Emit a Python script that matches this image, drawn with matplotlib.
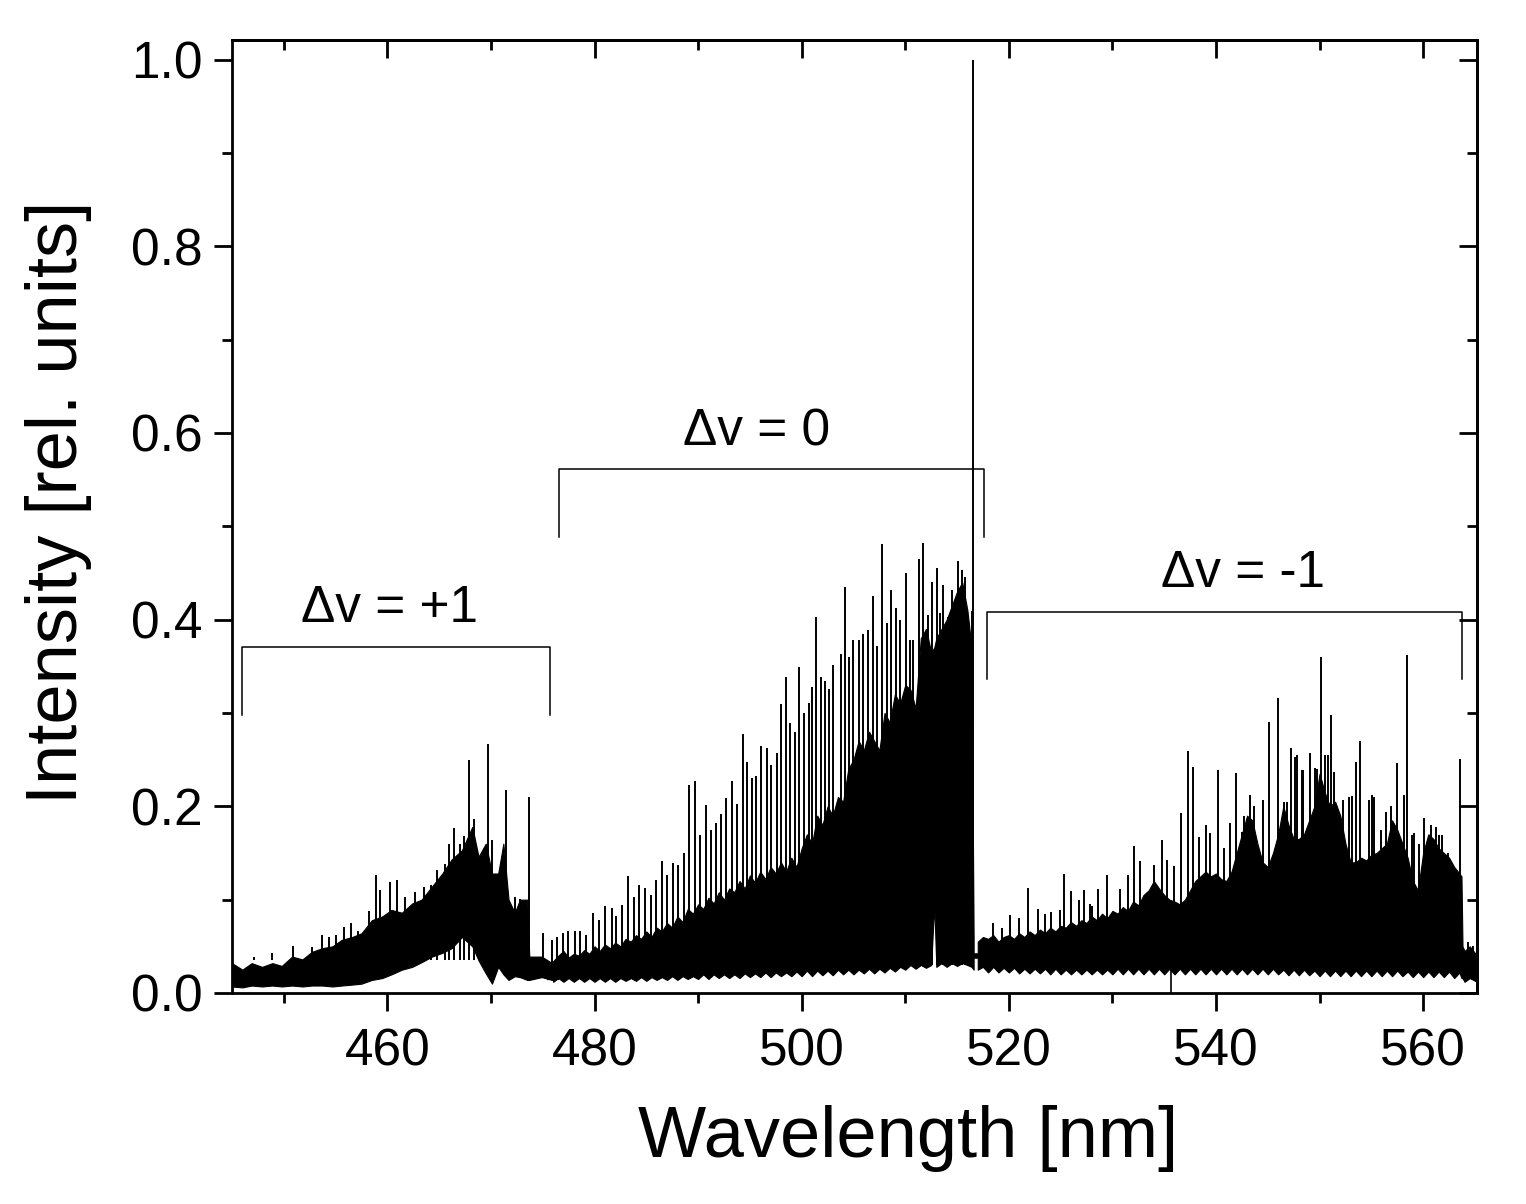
import numpy as np
import matplotlib.pyplot as plt
from matplotlib.ticker import MultipleLocator

plt.rcParams['font.family'] = ['Liberation Sans', 'DejaVu Sans']

# dense part of the spectrum (unresolved lines): lower / upper edge of the black band
# dv = +1 sequence
p1_band_wl = [445, 446, 446.9, 447.9, 448.9, 449.8, 450.8, 451.8, 452.7, 453.7, 454.7, 455.6,
              456.6, 457.5, 458.5, 459.5, 460.4, 461.4, 462.4, 463.3, 464.3, 465.3, 466.2,
              467.2, 468.2, 468.8, 469.5, 470.1, 470.7, 471.2, 471.7, 472.3, 472.8, 473.5,
              473.7, 474.9, 475.9]
p1_band_lo = [0.007, 0.006, 0.008, 0.007, 0.008, 0.007, 0.008, 0.007, 0.008, 0.008, 0.007,
              0.008, 0.009, 0.010, 0.014, 0.016, 0.020, 0.025, 0.028, 0.033, 0.039, 0.043,
              0.048, 0.060, 0.050, 0.035, 0.021, 0.010, 0.028, 0.020, 0.014, 0.018, 0.017,
              0.014, 0.014, 0.017, 0.014]
p1_band_hi = [0.032, 0.025, 0.032, 0.028, 0.032, 0.029, 0.039, 0.036, 0.044, 0.048, 0.050,
              0.057, 0.060, 0.064, 0.078, 0.082, 0.089, 0.086, 0.096, 0.100, 0.114, 0.128,
              0.143, 0.153, 0.178, 0.146, 0.160, 0.128, 0.128, 0.160, 0.100, 0.086, 0.100,
              0.100, 0.039, 0.039, 0.032]

# dv = 0 sequence
z_band_wl = [476, 476.5, 477, 477.5, 478, 478.5, 479, 479.5, 480, 480.5, 481, 481.5, 482,
             482.5, 483, 483.5, 484, 484.5, 485, 485.5, 486, 486.5, 487, 487.5, 488, 488.5,
             489, 489.5, 490, 490.5, 491, 491.5, 492, 492.5, 493, 493.5, 494, 494.5, 495,
             495.5, 496, 496.5, 497, 497.5, 498, 498.5, 499, 499.5, 500, 500.5, 501, 501.5,
             502, 502.5, 503, 503.5, 504, 504.5, 505, 505.5, 506, 506.5, 507, 507.5, 508,
             508.5, 509, 509.5, 510, 510.5, 511, 511.5, 512, 512.5, 512.8, 513, 513.5, 514,
             514.5, 515, 515.5, 516, 516.4, 516.6]
z_band_lo = [0.012, 0.016, 0.012, 0.016, 0.012, 0.016, 0.012, 0.016, 0.012, 0.016, 0.012,
             0.016, 0.012, 0.016, 0.013, 0.016, 0.013, 0.017, 0.013, 0.017, 0.014, 0.017,
             0.014, 0.018, 0.014, 0.018, 0.015, 0.018, 0.015, 0.020, 0.015, 0.020, 0.016,
             0.020, 0.016, 0.020, 0.016, 0.021, 0.017, 0.021, 0.017, 0.022, 0.017, 0.022,
             0.018, 0.022, 0.018, 0.023, 0.018, 0.024, 0.018, 0.024, 0.019, 0.024, 0.019,
             0.025, 0.020, 0.025, 0.020, 0.025, 0.021, 0.026, 0.021, 0.026, 0.022, 0.027,
             0.023, 0.028, 0.025, 0.030, 0.026, 0.030, 0.027, 0.030, 0.095, 0.028, 0.032,
             0.028, 0.032, 0.029, 0.032, 0.030, 0.028, 0.025]
z_band_hi = [0.034, 0.040, 0.045, 0.038, 0.042, 0.040, 0.046, 0.042, 0.050, 0.045, 0.052,
             0.048, 0.054, 0.050, 0.058, 0.055, 0.062, 0.058, 0.066, 0.060, 0.070, 0.066,
             0.075, 0.070, 0.082, 0.076, 0.090, 0.085, 0.095, 0.090, 0.102, 0.096, 0.108,
             0.100, 0.112, 0.108, 0.120, 0.112, 0.126, 0.118, 0.130, 0.122, 0.135, 0.128,
             0.140, 0.130, 0.145, 0.135, 0.155, 0.170, 0.160, 0.190, 0.180, 0.200, 0.190,
             0.210, 0.205, 0.240, 0.250, 0.270, 0.260, 0.280, 0.270, 0.260, 0.300, 0.290,
             0.320, 0.310, 0.330, 0.325, 0.305, 0.380, 0.390, 0.365, 0.370, 0.380, 0.390,
             0.400, 0.415, 0.430, 0.440, 0.410, 0.370, 0.060]

# dv = -1 sequence
m1_band_wl = [517, 517.5, 518, 518.5, 519, 519.5, 520, 520.5, 521, 521.5, 522, 522.5, 523,
              523.5, 524, 524.5, 525, 525.5, 526, 526.5, 527, 527.5, 528, 528.5, 529, 529.5,
              530, 530.5, 531, 531.5, 532, 532.5, 533, 533.5, 534, 534.5, 535, 535.5, 536,
              536.5, 537, 537.5, 538, 538.5, 539, 539.5, 540, 540.5, 541, 541.5, 542, 542.5,
              543, 543.5, 544, 544.5, 545, 545.5, 546, 546.5, 547, 547.5, 548, 548.5, 549,
              549.5, 550, 550.5, 551, 551.5, 552, 552.5, 553, 553.5, 554, 554.5, 555, 555.5,
              556, 556.5, 557, 557.5, 558, 558.5, 559, 559.5, 560, 560.5, 561, 561.5, 562,
              562.5, 563, 563.5, 563.7, 563.8, 564, 564.5, 565.2]
m1_band_lo = [0.025, 0.028, 0.022, 0.028, 0.022, 0.027, 0.022, 0.027, 0.021, 0.026, 0.021,
              0.026, 0.021, 0.026, 0.020, 0.026, 0.020, 0.025, 0.020, 0.025, 0.020, 0.025,
              0.020, 0.025, 0.020, 0.025, 0.020, 0.026, 0.020, 0.026, 0.020, 0.026, 0.020,
              0.026, 0.020, 0.026, 0.020, 0.026, 0.020, 0.026, 0.020, 0.026, 0.020, 0.026,
              0.020, 0.026, 0.020, 0.026, 0.020, 0.026, 0.020, 0.026, 0.020, 0.026, 0.020,
              0.026, 0.020, 0.026, 0.020, 0.025, 0.019, 0.025, 0.019, 0.025, 0.019, 0.024,
              0.018, 0.024, 0.018, 0.024, 0.018, 0.024, 0.018, 0.024, 0.018, 0.024, 0.018,
              0.024, 0.018, 0.024, 0.018, 0.024, 0.018, 0.023, 0.017, 0.023, 0.017, 0.023,
              0.017, 0.023, 0.017, 0.023, 0.016, 0.022, 0.016, 0.016, 0.012, 0.016, 0.012]
m1_band_hi = [0.055, 0.060, 0.058, 0.062, 0.055, 0.060, 0.062, 0.058, 0.064, 0.060, 0.066,
              0.062, 0.068, 0.064, 0.070, 0.066, 0.072, 0.070, 0.076, 0.072, 0.078, 0.075,
              0.082, 0.078, 0.085, 0.080, 0.088, 0.085, 0.092, 0.088, 0.098, 0.094, 0.105,
              0.110, 0.120, 0.112, 0.105, 0.100, 0.098, 0.095, 0.100, 0.110, 0.120, 0.125,
              0.130, 0.125, 0.128, 0.122, 0.120, 0.130, 0.150, 0.170, 0.190, 0.185, 0.160,
              0.140, 0.135, 0.150, 0.170, 0.200, 0.180, 0.165, 0.165, 0.170, 0.185, 0.200,
              0.235, 0.215, 0.200, 0.205, 0.190, 0.160, 0.140, 0.140, 0.145, 0.142, 0.148,
              0.150, 0.155, 0.160, 0.185, 0.175, 0.160, 0.145, 0.120, 0.110, 0.150, 0.170,
              0.165, 0.155, 0.150, 0.145, 0.135, 0.128, 0.125, 0.050, 0.045, 0.050, 0.040]

# single lines sticking out of the band
p1_wl = [447.09, 448.86, 450.89, 452.72, 453.69, 454.33, 455.04, 455.78, 456.52, 457.16,
         458.26, 458.90, 459.32, 460.28, 460.93, 461.73, 462.63, 463.50, 464.24, 464.79,
         465.53, 465.98, 466.40, 467.04, 467.43, 467.91, 468.39, 468.97, 469.68, 470.10,
         471.00, 471.45, 472.35, 472.83, 473.64]
p1_h = [0.039, 0.043, 0.050, 0.049, 0.062, 0.060, 0.062, 0.071, 0.075, 0.066,
        0.088, 0.126, 0.110, 0.119, 0.121, 0.103, 0.108, 0.114, 0.116, 0.132,
        0.138, 0.160, 0.177, 0.160, 0.168, 0.250, 0.186, 0.146, 0.267, 0.164,
        0.139, 0.218, 0.103, 0.101, 0.210]

z_wl = [475.05, 475.86, 476.34, 476.92, 477.46, 478.11, 478.59, 479.17, 479.81, 480.42,
        481.00, 481.65, 482.07, 482.62, 483.19, 483.80, 484.29, 484.87, 485.41, 485.93,
        486.51, 487.02, 487.53, 488.08, 488.66, 489.14, 489.72, 490.17, 490.75, 491.20,
        491.72, 492.20, 492.68, 493.26, 493.74, 494.29, 494.74, 495.19, 495.60, 496.03,
        496.61, 497.05, 497.57, 497.99, 498.44, 498.89, 499.34, 499.76, 500.21, 500.66,
        500.98, 501.37, 501.82, 502.27, 502.59, 503.04, 503.75, 504.17, 504.58, 504.97,
        505.49, 505.94, 506.45, 506.90, 507.32, 507.74, 508.19, 508.61, 509.06, 509.48,
        510.06, 510.44, 510.77, 511.34, 511.73, 512.21, 512.60, 513.02, 513.34, 513.66,
        514.14, 514.47, 515.11, 515.44, 515.75, 516.49, 516.53]
z_h = [0.064, 0.057, 0.060, 0.064, 0.066, 0.066, 0.066, 0.062, 0.086, 0.078,
       0.093, 0.091, 0.082, 0.094, 0.125, 0.103, 0.116, 0.112, 0.105, 0.121,
       0.141, 0.126, 0.139, 0.137, 0.150, 0.223, 0.227, 0.169, 0.201, 0.175,
       0.182, 0.192, 0.209, 0.227, 0.203, 0.277, 0.247, 0.230, 0.233, 0.265,
       0.262, 0.244, 0.257, 0.310, 0.339, 0.289, 0.280, 0.349, 0.300, 0.311,
       0.328, 0.403, 0.339, 0.334, 0.326, 0.351, 0.363, 0.435, 0.360, 0.378,
       0.378, 0.385, 0.389, 0.425, 0.372, 0.481, 0.396, 0.432, 0.412, 0.400,
       0.450, 0.378, 0.378, 0.465, 0.482, 0.405, 0.440, 0.455, 0.407, 0.437,
       0.403, 0.432, 0.463, 0.453, 0.446, 0.409, 1.000]

m1_wl = [518.50, 519.30, 520.08, 521.00, 521.86, 522.80, 523.50, 524.03, 524.91, 525.37,
         526.05, 526.80, 527.29, 527.80, 528.03, 528.65, 529.46, 530.72, 531.50, 532.09,
         532.70, 533.97, 534.74, 535.30, 535.92, 536.64, 537.28, 537.80, 538.38, 539.03,
         539.46, 540.17, 540.79, 541.31, 541.96, 542.53, 542.70, 543.26, 543.68, 544.55,
         545.14, 546.03, 546.59, 546.90, 547.25, 547.63, 547.80, 548.26, 548.40, 549.09,
         549.59, 549.80, 550.10, 550.56, 550.80, 551.10, 551.44, 552.28, 552.80, 553.09,
         553.52, 553.93, 554.80, 555.04, 555.30, 555.90, 556.40, 556.92, 557.47, 558.12,
         558.45, 558.95, 559.10, 559.59, 560.08, 560.80, 561.20, 561.55, 561.80, 562.42,
         563.60, 564.30, 564.80]
m1_h = [0.075, 0.070, 0.084, 0.080, 0.113, 0.090, 0.085, 0.087, 0.089, 0.128,
        0.109, 0.100, 0.110, 0.095, 0.093, 0.111, 0.126, 0.111, 0.126, 0.158,
        0.141, 0.137, 0.164, 0.143, 0.136, 0.193, 0.259, 0.242, 0.167, 0.180,
        0.171, 0.239, 0.155, 0.182, 0.236, 0.173, 0.190, 0.212, 0.200, 0.207,
        0.290, 0.316, 0.205, 0.205, 0.262, 0.253, 0.255, 0.239, 0.239, 0.257,
        0.241, 0.240, 0.360, 0.255, 0.255, 0.298, 0.237, 0.207, 0.210, 0.211,
        0.247, 0.270, 0.207, 0.212, 0.210, 0.175, 0.194, 0.200, 0.246, 0.212,
        0.362, 0.169, 0.171, 0.160, 0.187, 0.180, 0.178, 0.169, 0.169, 0.150,
        0.251, 0.055, 0.050]

# one line that dips down to zero
dip_wl = [535.7]
dip_lo = [0.0]

# band labels and bracket extents
band_names = ['\u0394v = +1', '\u0394v = 0', '\u0394v = -1']
br_left = [445.97, 476.6, 517.85]
br_right = [475.7, 517.6, 563.75]
br_top = [0.371, 0.5616, 0.4087]
br_bot = [0.298, 0.489, 0.336]
name_x = [460.25, 495.65, 542.6]
name_y = [0.3976, 0.587, 0.435]

fig = plt.figure(figsize=(15.26, 12.04), dpi=100)
ax = fig.add_axes([232 / 1526, 211 / 1204, 1245 / 1526, 953 / 1204])

for wl, lo, hi in [(p1_band_wl, p1_band_lo, p1_band_hi),
                   (z_band_wl, z_band_lo, z_band_hi),
                   (m1_band_wl, m1_band_lo, m1_band_hi)]:
    ax.fill_between(wl, lo, hi, color='black', lw=0.8)
ax.plot([p1_band_wl[-1], z_band_wl[0]], [0.02, 0.02], color='black', lw=8)
ax.plot([z_band_wl[-1], m1_band_wl[0]], [0.04, 0.04], color='black', lw=4)

# lines start inside the band so only their tops show
ax.vlines(p1_wl, 0.035, p1_h, color='black', lw=1.4)
ax.vlines(z_wl, 0.03, z_h, color='black', lw=1.4)
ax.vlines(m1_wl, 0.03, m1_h, color='black', lw=1.4)
ax.vlines(dip_wl, dip_lo, 0.03, color='black', lw=1.2)

for i in range(3):
    l, r, t, b = br_left[i], br_right[i], br_top[i], br_bot[i]
    ax.plot([l, l, r, r], [b, t, t, b], color='black', lw=1.1)
    ax.text(name_x[i], name_y[i], band_names[i], ha='center', va='baseline', fontsize=37)

ax.set_xlim(445, 565.2)
ax.set_ylim(0, 1.021)
ax.xaxis.set_major_locator(MultipleLocator(20))
ax.xaxis.set_minor_locator(MultipleLocator(10))
ax.yaxis.set_major_locator(MultipleLocator(0.2))
ax.yaxis.set_minor_locator(MultipleLocator(0.1))
ax.yaxis.set_major_formatter(lambda v, p: '%.1f' % v)
ax.tick_params(which='major', direction='out', length=13, width=2, labelsize=37)
ax.tick_params(which='minor', direction='out', length=7.5, width=2)
ax.tick_params(axis='x', which='major', pad=11.5)
ax.tick_params(axis='y', which='major', pad=8)
for s in ax.spines.values():
    s.set_linewidth(2)

# mirrored ticks on top and right point inwards
top = ax.secondary_xaxis('top')
top.xaxis.set_major_locator(MultipleLocator(20))
top.xaxis.set_minor_locator(MultipleLocator(10))
right = ax.secondary_yaxis('right')
right.yaxis.set_major_locator(MultipleLocator(0.2))
right.yaxis.set_minor_locator(MultipleLocator(0.1))
for sec in (top, right):
    sec.tick_params(which='major', direction='in', length=13, width=2)
    sec.tick_params(which='minor', direction='in', length=7.5, width=2)
    sec.tick_params(labeltop=False, labelright=False)
    for s in sec.spines.values():
        s.set_linewidth(2)

ax.set_xlabel('Wavelength [nm]', fontsize=52)
ax.set_ylabel('Intensity [rel. units]', fontsize=52)
ax.xaxis.set_label_coords(0.543, -0.118)
ax.yaxis.set_label_coords(-0.1125, 0.515)

fig.savefig('out.png', dpi=100)
